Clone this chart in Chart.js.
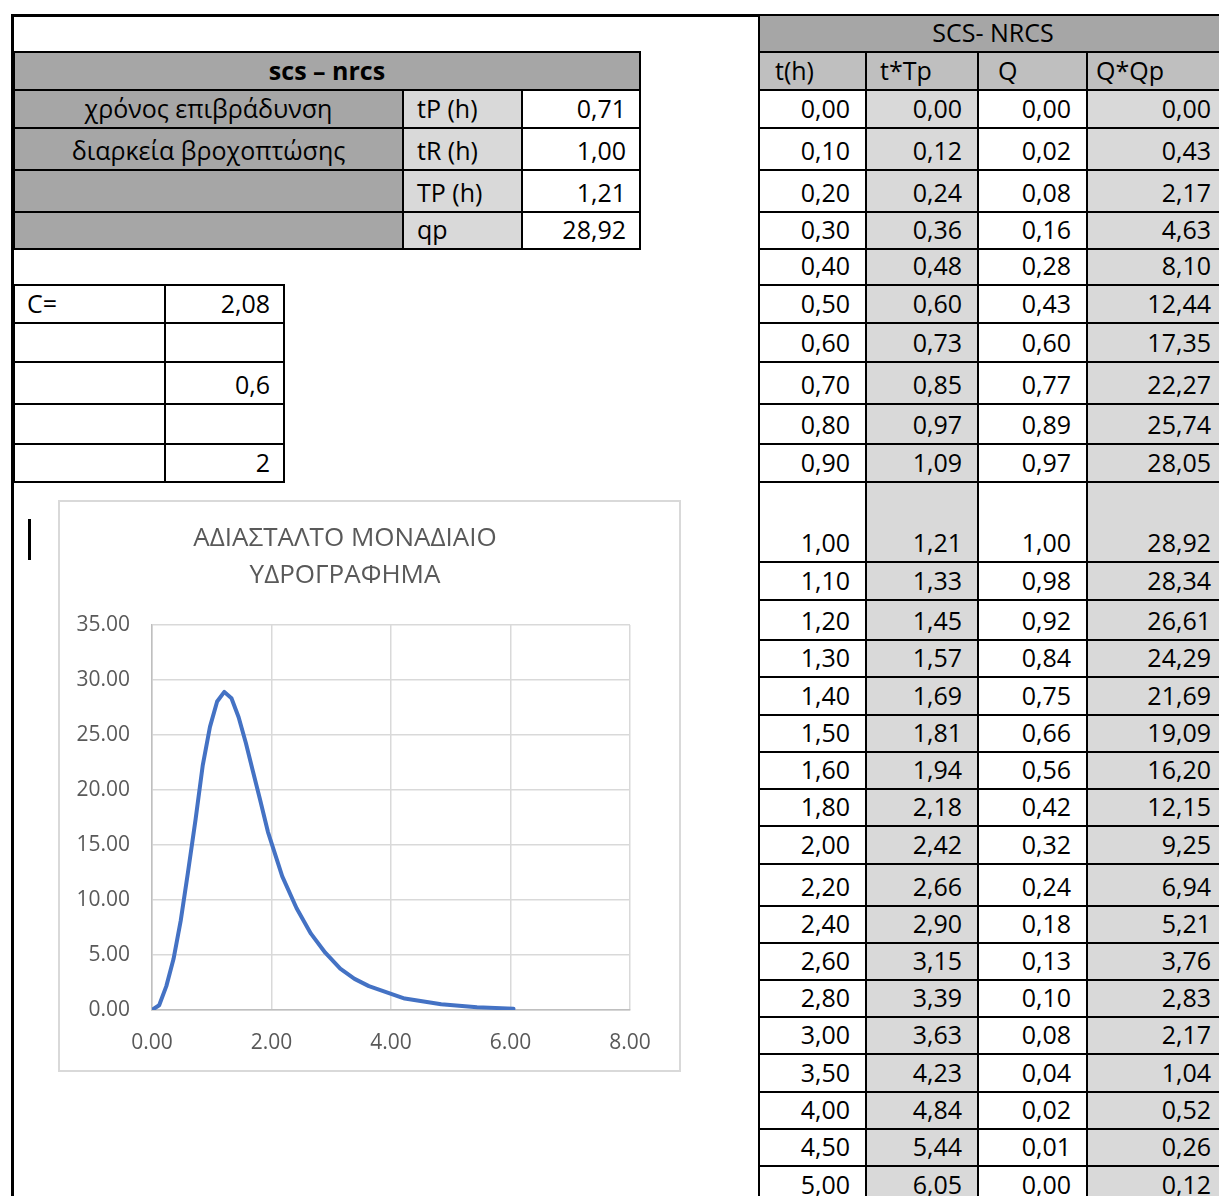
<!DOCTYPE html>
<html>
<head>
<meta charset="utf-8">
<script src="https://cdn.jsdelivr.net/npm/chart.js@4/dist/chart.umd.min.js"></script>
<style>
  html, body { margin: 0; padding: 0; background: #fff; }
  body { width: 1219px; height: 1196px; position: relative; overflow: hidden;
         font-family: "Open Sans", "Noto Sans", sans-serif; font-size: 25px; color: #000; }
  .cell { position: absolute; box-sizing: border-box; border: 2px solid #000; }
  .txt { position: absolute; line-height: 25px; white-space: nowrap; bottom: 6px; }
  .line { position: absolute; background: #000; }
  #chartBox { position: absolute; left: 58px; top: 500px; width: 623px; height: 572px;
              box-sizing: border-box; border: 2px solid #d9d9d9; background: #fff; }
  #chartBox canvas { position: absolute; left: 0; top: 0; }
</style>
</head>
<body>
<div id="sheet"></div>
<div id="chartBox"><canvas id="uh" width="619" height="568"></canvas></div>
<script>
// ---- data: SCS-NRCS dimensionless unit hydrograph ----
const tH   = [0.00, 0.10, 0.20, 0.30, 0.40, 0.50, 0.60, 0.70, 0.80, 0.90, 1.00, 1.10, 1.20, 1.30,
              1.40, 1.50, 1.60, 1.80, 2.00, 2.20, 2.40, 2.60, 2.80, 3.00, 3.50, 4.00, 4.50, 5.00];
const tTp  = [0.00, 0.12, 0.24, 0.36, 0.48, 0.60, 0.73, 0.85, 0.97, 1.09, 1.21, 1.33, 1.45, 1.57,
              1.69, 1.81, 1.94, 2.18, 2.42, 2.66, 2.90, 3.15, 3.39, 3.63, 4.23, 4.84, 5.44, 6.05];
const Q    = [0.00, 0.02, 0.08, 0.16, 0.28, 0.43, 0.60, 0.77, 0.89, 0.97, 1.00, 0.98, 0.92, 0.84,
              0.75, 0.66, 0.56, 0.42, 0.32, 0.24, 0.18, 0.13, 0.10, 0.08, 0.04, 0.02, 0.01, 0.00];
const QQp  = [0.00, 0.43, 2.17, 4.63, 8.10, 12.44, 17.35, 22.27, 25.74, 28.05, 28.92, 28.34, 26.61, 24.29,
              21.69, 19.09, 16.20, 12.15, 9.25, 6.94, 5.21, 3.76, 2.83, 2.17, 1.04, 0.52, 0.26, 0.12];
const tableHeaders = ["t(h)", "t*Tp", "Q", "Q*Qp"];
const tableTitle = "SCS- NRCS";

const paramTitle   = "scs – nrcs";
const paramNames   = ["χρόνος επιβράδυνση", "διαρκεία βροχοπτώσης", "", ""];
const paramSymbols = ["tP (h)", "tR (h)", "TP (h)", "qp"];
const paramValues  = [0.71, 1.00, 1.21, 28.92];

const coefLabels = ["C=", "", "", "", ""];
const coefValues = ["2,08", "", "0,6", "", "2"];

const chartTitle = ["ΑΔΙΑΣΤΑΛΤΟ ΜΟΝΑΔΙΑΙΟ", "ΥΔΡΟΓΡΑΦΗΜΑ"];
const xTicks = [0, 2, 4, 6, 8];
const yTicks = [0, 5, 10, 15, 20, 25, 30, 35];

// ---- sheet layout ----
const GRAY_DARK = "#a6a6a6", GRAY_MID = "#bfbfbf", GRAY_LIGHT = "#d9d9d9";
const sheet = document.getElementById("sheet");
const fmt = v => Number(v).toFixed(2).replace(".", ",");

function cell(x1, y1, x2, y2, bg, text, align, pad, bold) {
  const d = document.createElement("div");
  d.className = "cell";
  d.style.left = (x1 - 1) + "px"; d.style.top = (y1 - 1) + "px";
  d.style.width = (x2 - x1 + 2) + "px"; d.style.height = (y2 - y1 + 2) + "px";
  d.style.background = bg || "#fff";
  if (text) {
    const s = document.createElement("span");
    s.className = "txt";
    s.textContent = text;
    if (bold) s.style.fontWeight = "bold";
    if (align === "right") s.style.right = pad + "px";
    else if (align === "left") s.style.left = pad + "px";
    else { s.style.left = "0"; s.style.right = "0"; s.style.textAlign = "center"; }
    d.appendChild(s);
  }
  sheet.appendChild(d);
}
function line(x, y, w, h) {
  const d = document.createElement("div");
  d.className = "line";
  d.style.left = x + "px"; d.style.top = y + "px";
  d.style.width = w + "px"; d.style.height = h + "px";
  sheet.appendChild(d);
}

// outer frame of the sheet area
line(12, 14, 748, 3);
line(11, 14, 3, 1182);
// text cursor in the sheet
line(28, 519, 3, 41);

// parameter block
const pRows = [52, 90, 128, 170, 212, 249];
const pCols = [14, 403, 522, 640];
cell(pCols[0], pRows[0], pCols[3], pRows[1], GRAY_DARK, paramTitle, "center", 0, true);
for (let i = 0; i < paramSymbols.length; i++) {
  const y1 = pRows[i + 1], y2 = pRows[i + 2];
  cell(pCols[0], y1, pCols[1], y2, GRAY_DARK, paramNames[i], "center", 0);
  cell(pCols[1], y1, pCols[2], y2, GRAY_LIGHT, paramSymbols[i], "left", 13);
  cell(pCols[2], y1, pCols[3], y2, "#fff", fmt(paramValues[i]), "right", 13);
}

// coefficient block
const cRows = [285, 323, 362, 404, 444, 482];
const cCols = [14, 165, 284];
for (let i = 0; i < coefLabels.length; i++) {
  cell(cCols[0], cRows[i], cCols[1], cRows[i + 1], "#fff", coefLabels[i], "left", 12);
  cell(cCols[1], cRows[i], cCols[2], cRows[i + 1], "#fff", coefValues[i], "right", 13);
}

// hydrograph table
const tCols = [759, 866, 978, 1087, 1227];
const tRows = [15, 52, 90, 128, 170, 212, 249, 285, 323, 362, 404, 444, 482, 562, 600, 640,
               677, 715, 752, 789, 826, 864, 906, 943, 980, 1017, 1054, 1092, 1129, 1166, 1204];
const headPad = [15, 13, 19, 8];
const colFill = ["#fff", GRAY_LIGHT, "#fff", GRAY_LIGHT];
cell(tCols[0], tRows[0], tCols[4], tRows[1], GRAY_DARK, tableTitle, "center", 0);
for (let c = 0; c < 4; c++) {
  cell(tCols[c], tRows[1], tCols[c + 1], tRows[2], GRAY_MID, tableHeaders[c], "left", headPad[c]);
}
const cols = [tH, tTp, Q, QQp];
for (let r = 0; r < tH.length; r++) {
  for (let c = 0; c < 4; c++) {
    cell(tCols[c], tRows[r + 2], tCols[c + 1], tRows[r + 3], colFill[c], fmt(cols[c][r]), "right", 15);
  }
}

// ---- chart ----
const FONT = "'Open Sans', 'Noto Sans', sans-serif";
const points = tTp.map((x, i) => ({ x: x, y: QQp[i] }));

new Chart(document.getElementById("uh"), {
  type: "scatter",
  data: {
    datasets: [{
      data: points,
      showLine: true,
      borderColor: "#4472c4",
      backgroundColor: "#4472c4",
      borderWidth: 4,
      pointRadius: 0,
      tension: 0,
      borderJoinStyle: "round",
      borderCapStyle: "round"
    }]
  },
  options: {
    responsive: false,
    animation: false,
    devicePixelRatio: 1,
    layout: { padding: { top: 0, left: 0, right: 49, bottom: 0 } },
    plugins: {
      legend: { display: false },
      tooltip: { enabled: false },
      title: {
        display: true,
        text: chartTitle,
        color: "#595959",
        font: { family: FONT, size: 26, weight: "normal", lineHeight: 37 / 26 },
        padding: { top: 18, bottom: 31 }
      }
    },
    scales: {
      x: {
        type: "linear",
        min: xTicks[0], max: xTicks[xTicks.length - 1],
        afterBuildTicks: s => { s.ticks = xTicks.map(v => ({ value: v })); },
        afterFit: s => { s.height = 60; },
        grid: { color: "#d9d9d9", lineWidth: 1.5, drawTicks: false },
        border: { color: "#bfbfbf", width: 1.5 },
        ticks: { color: "#595959", font: { family: FONT, size: 21 }, padding: 20,
                 maxRotation: 0, callback: v => Number(v).toFixed(2) }
      },
      y: {
        type: "linear",
        min: yTicks[0], max: yTicks[yTicks.length - 1],
        afterBuildTicks: s => { s.ticks = yTicks.map(v => ({ value: v })); },
        afterFit: s => { s.width = 92; },
        grid: { color: "#d9d9d9", lineWidth: 1.5, drawTicks: false },
        border: { color: "#bfbfbf", width: 1.5 },
        ticks: { color: "#595959", font: { family: FONT, size: 21 }, padding: 22,
                 callback: v => Number(v).toFixed(2) }
      }
    }
  }
});
</script>
</body>
</html>
